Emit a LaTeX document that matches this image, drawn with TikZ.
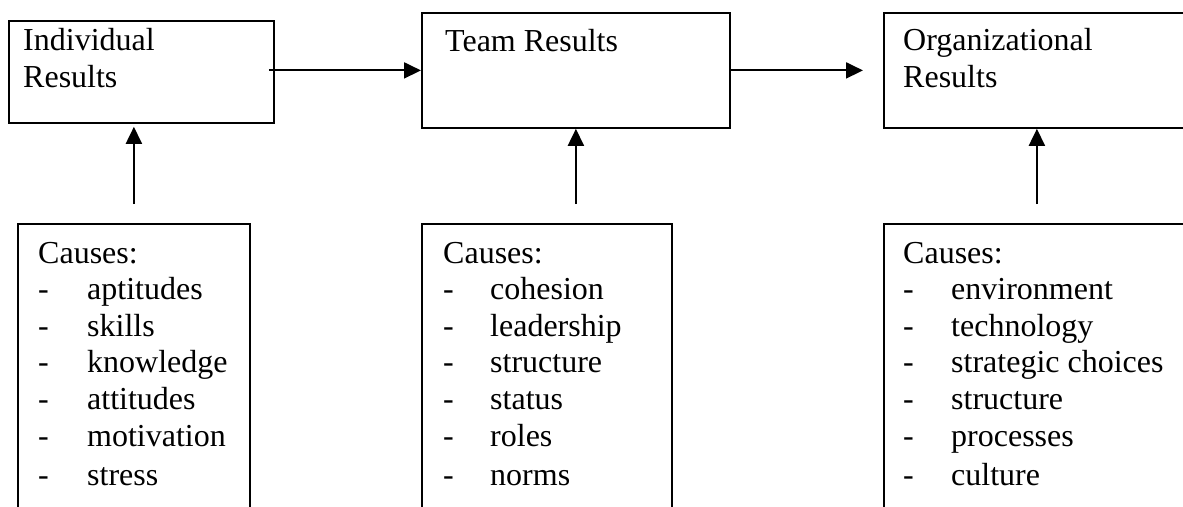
\documentclass[tikz,border=0pt]{standalone}
\usepackage{fontspec}
\setmainfont{Liberation Serif}
\usetikzlibrary{arrows.meta}
\begin{document}
\begin{tikzpicture}[x=1pt,y=-1pt,
  box/.style={draw, line width=1.8pt, inner sep=0pt, anchor=north west},
  txt/.style={anchor=base west, inner sep=0pt, font=\fontsize{32}{37}\selectfont},
  arr/.style={line width=1.9pt, -{Triangle[length=17pt,width=16pt]}}]
\clip (0,0) rectangle (1183,506);
\fill[white] (0,0) rectangle (1183,506);
% top boxes
\node[box, minimum width=265pt, minimum height=102pt] (ind) at (8,20) {};
\node[box, minimum width=308pt, minimum height=115pt] (team) at (421,12) {};
\node[box, minimum width=306pt, minimum height=115pt] (org) at (883,12) {};
% bottom boxes
\node[box, minimum width=232pt, minimum height=310pt] (cl) at (17,223) {};
\node[box, minimum width=250pt, minimum height=310pt] (cm) at (421,223) {};
\node[box, minimum width=306pt, minimum height=310pt] (cr) at (883,223) {};
% top texts
\node[txt] (indA) at (23,50) {Individual};
\node[txt] (indB) at (23,87) {Results};
\node[txt] (teamA) at (445,51) {Team Results};
\node[txt] (orgA) at (903,50) {Organizational};
\node[txt] (orgB) at (903,87) {Results};
% causes
\node[txt] (clC) at (38,263) {Causes:};
\node[txt] (cmC) at (443,263) {Causes:};
\node[txt] (crC) at (903,263) {Causes:};
\foreach \t [count=\i] in {aptitudes,skills,knowledge,attitudes,motivation,stress}{
  \pgfmathsetmacro{\yy}{263+36.6*\i+(\i==6)*2.4}
  \node[txt] (clD\i) at (38,\yy) {-};
  \node[txt] (clI\i) at (87,\yy) {\t};
}
\foreach \t [count=\i] in {cohesion,leadership,structure,status,roles,norms}{
  \pgfmathsetmacro{\yy}{263+36.6*\i+(\i==6)*2.4}
  \node[txt] (cmD\i) at (443,\yy) {-};
  \node[txt] (cmI\i) at (490,\yy) {\t};
}
\foreach \t [count=\i] in {environment,technology,strategic choices,structure,processes,culture}{
  \pgfmathsetmacro{\yy}{263+36.6*\i+(\i==6)*2.4}
  \node[txt] (crD\i) at (903,\yy) {-};
  \node[txt] (crI\i) at (951,\yy) {\t};
}
% connectors
\draw[arr, shorten <=-6pt] (ind.east |- team.west) -- (team.west);
\draw[arr, shorten >=20pt] (team.east) -- (org.west |- team.east);
\draw[arr, shorten <=19pt, shorten >=3pt] (cl.north) -- (cl.north |- ind.south);
\draw[arr, shorten <=19pt] (team.south |- cm.north) -- (team.south);
\draw[arr, shorten <=19pt] (org.south |- cr.north) -- (org.south);
\end{tikzpicture}
\end{document}
